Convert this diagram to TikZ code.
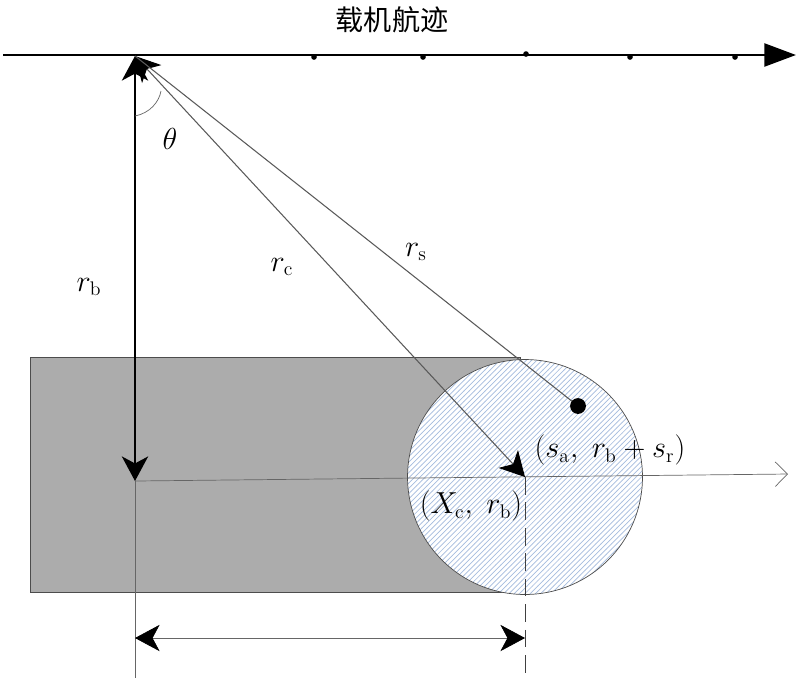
\documentclass[tikz,border=0pt]{standalone}
\usepackage{fontspec}
\newfontfamily\cjk{Noto Sans CJK SC}
\usetikzlibrary{arrows.meta,patterns}

\begin{document}
\begin{tikzpicture}[x=0.02cm, y=-0.02cm,
  >={Stealth[length=14pt,width=15pt,inset=4pt,color=black]},
  lbl/.style={font=\fontsize{16}{19}\selectfont},
  ray/.style={draw=black!65, line width=0.6pt}]
  % Define colors
  \colorlet{swathgray}{gray!65}
  \definecolor{beamhatch}{RGB}{165,188,222}
  \useasboundingbox (0,0) rectangle (800,681);

  % Key points
  \coordinate (trackL) at (3,55);
  \coordinate (trackR) at (796,55);
  \coordinate (apex) at (135,56);
  \coordinate (foot) at (135,481);
  \coordinate (center) at (525,477);
  \coordinate (axisR) at (788,474);
  \coordinate (target) at (578,406);
  \coordinate (lowL) at (135,678);
  \coordinate (lowR) at (525,680);
  \coordinate (dimL) at (135,638);
  \coordinate (dimR) at (525,638);
  \coordinate (arcA) at (135,116);
  \coordinate (arcB) at (161,91);

  % Swath and beam footprint
  \draw[fill=swathgray, draw=black!70] (30,357) rectangle (520,592);
  \fill[white] (center) circle (2.35cm);
  \draw[pattern=north east lines, pattern color=beamhatch, draw=black!70] (center) circle (2.35cm);

  % Flight track
  \draw[line width=1.6pt, -{Triangle[length=18pt,width=13pt]}] (trackL) -- (trackR);
  \foreach \px/\py in {314/57, 423/57, 526/54, 630/57, 735/57}
    \fill (\px,\py) circle (1.6pt);

  % Ground-range axis and guides
  \draw[black!60, -{Straight Barb[length=7pt,width=14pt]}] (foot) -- (axisR);
  \draw[black!60] (foot) -- (lowL);
  \draw[black!75, dash pattern=on 10pt off 4.5pt] (center) -- (lowR);
  \draw[black!60, <->] (dimL) -- (dimR);

  % Slant ranges
  \draw[line width=0.9pt, <->] (apex) -- (foot);
  \draw[ray, <->] (apex) -- (center);
  \draw[ray] (apex) -- (target);
  \fill (target) circle (4.5pt);
  \draw[black!60] (arcA) .. controls (150,113) and (159,102) .. (arcB);

  % Labels
  \node (track) at (392,20) {\cjk\fontsize{16}{18}\selectfont 载机航迹};
  \node[lbl] (theta) at (170,139) {$\theta$};
  \node[lbl] (rb) at (89,287) {$r_{\mathrm{b}}$};
  \node[lbl] (rc) at (282,267) {$r_{\mathrm{c}}$};
  \node[lbl] (rs) at (416,252) {$r_{\mathrm{s}}$};
  \node[lbl] (spos) at (610,450) {$(s_{\mathrm{a}},\ r_{\mathrm{b}}+s_{\mathrm{r}})$};
  \node[lbl] (xpos) at (471,506) {$(X_{\mathrm{c}},\ r_{\mathrm{b}})$};
\end{tikzpicture}
\end{document}
